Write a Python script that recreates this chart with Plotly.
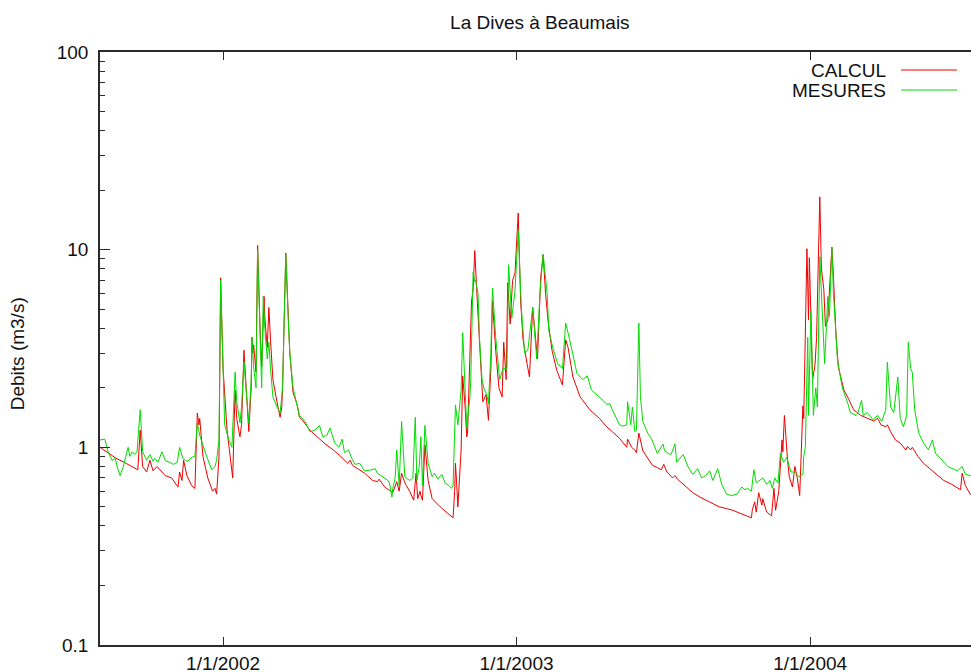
import pandas as pd
import plotly.graph_objects as go

# Start of the record (day 0 = 1 Aug 2001)
debut = "2001-08-01"

# CALCUL (simulated discharge, m3/s), sampled by day number since debut
jours_calcul = [0, 10, 20, 30, 40, 47, 50, 53, 58, 62, 66, 71, 81, 89, 97, 99, 102, 104, 108, 114, 118, 121, 123, 124, 128,
                134, 140, 143, 145, 148, 150, 153, 158, 162, 165, 168, 170, 174, 176, 179, 182, 185, 188, 189, 190, 191,
                194, 196, 199, 201, 204, 205, 208, 210, 212, 215, 220, 224, 226, 227, 231, 234, 236, 240, 245, 248, 252,
                261, 270, 280, 290, 298, 308, 311, 314, 323, 329, 339, 345, 347, 354, 364, 369, 372, 375, 378, 380, 385,
                390, 393, 395, 398, 399, 401, 404, 408, 413, 423, 431, 439, 441, 442, 444, 445, 449, 451, 454, 456, 457,
                460, 462, 464, 466, 469, 471, 475, 476, 480, 483, 486, 488, 492, 496, 500, 502, 505, 507, 510, 513, 516,
                520, 523, 526, 531, 534, 538, 542, 544, 548, 551, 554, 557, 562, 568, 575, 579, 582, 588, 597, 609, 621,
                630, 637, 646, 655, 656, 661, 665, 667, 670, 675, 681, 687, 693, 698, 701, 705, 712, 715, 718, 727, 737,
                746, 754, 762, 770, 779, 787, 798, 810, 811, 814, 816, 819, 823, 824, 829, 835, 838, 840, 844, 848, 849,
                851, 855, 857, 861, 864, 867, 870, 874, 875, 879, 881, 882, 886, 889, 891, 895, 897, 900, 902, 905, 907,
                910, 912, 915, 918, 925, 931, 937, 946, 954, 962, 967, 971, 977, 979, 983, 989, 995, 1002, 1004, 1008,
                1010, 1017, 1024, 1033, 1041, 1049, 1059, 1070, 1072, 1076, 1082, 1095]
debit_calcul = [1.0, 0.94, 0.88, 0.84, 0.8, 0.77, 1.22, 0.8, 0.75, 0.86, 0.76, 0.8, 0.72, 0.7, 0.63, 0.75, 0.68, 0.86, 0.72,
                0.64, 0.62, 1.49, 1.3, 1.4, 0.9, 0.7, 0.6, 0.62, 0.58, 0.9, 7.2, 2.5, 1.22, 0.85, 0.7, 1.95, 1.4, 1.13,
                1.3, 3.1, 1.8, 1.2, 2.0, 3.6, 3.0, 3.3, 2.4, 10.5, 4.0, 2.55, 5.8, 4.5, 3.2, 5.1, 3.5, 2.2, 1.7, 1.42,
                1.6, 2.0, 9.6, 4.5, 3.0, 1.9, 1.65, 1.42, 1.37, 1.22, 1.13, 1.04, 0.97, 0.91, 0.83, 0.86, 0.81, 0.77,
                0.74, 0.68, 0.67, 0.69, 0.63, 0.59, 0.67, 0.6, 0.74, 0.68, 0.65, 0.6, 0.54, 0.74, 0.55, 0.6, 0.57, 0.54,
                1.03, 0.68, 0.55, 0.5, 0.47, 0.44, 0.6, 0.83, 0.6, 0.5, 0.97, 2.3, 1.6, 1.13, 1.18, 2.6, 5.5, 6.3, 9.9,
                5.6, 4.0, 1.9, 1.7, 1.85, 1.37, 2.5, 5.5, 3.1, 2.0, 1.8, 3.4, 2.2, 6.8, 4.2, 7.0, 7.6, 15.3, 5.5, 3.5,
                2.65, 2.27, 5.1, 3.4, 2.8, 7.3, 9.4, 6.0, 4.4, 3.1, 2.45, 2.07, 3.5, 3.2, 2.27, 1.8, 1.55, 1.4, 1.27,
                1.2, 1.11, 1.0, 1.1, 1.0, 0.97, 0.94, 1.18, 0.96, 0.88, 0.81, 0.79, 0.77, 0.82, 0.75, 0.7, 0.72, 0.69,
                0.64, 0.59, 0.56, 0.54, 0.52, 0.5, 0.49, 0.48, 0.46, 0.44, 0.48, 0.53, 0.47, 0.59, 0.51, 0.55, 0.47,
                0.45, 0.62, 0.48, 0.6, 1.09, 0.95, 1.45, 0.85, 0.71, 0.63, 0.8, 0.7, 0.57, 1.62, 1.4, 10.1, 4.4, 9.1,
                2.2, 2.6, 3.6, 18.5, 8.0, 6.3, 4.1, 4.4, 6.5, 10.3, 7.2, 3.8, 2.55, 1.95, 1.75, 1.55, 1.45, 1.4, 1.36,
                1.4, 1.3, 1.27, 1.3, 1.2, 1.09, 1.05, 0.97, 1.01, 0.97, 1.0, 0.9, 0.83, 0.77, 0.72, 0.68, 0.65, 0.61,
                0.74, 0.64, 0.58, 0.56]

# MESURES (observed discharge, m3/s)
jours_mesures = [0, 4, 6, 10, 15, 19, 22, 25, 29, 32, 35, 37, 40, 43, 46, 50, 53, 58, 62, 66, 68, 72, 77, 81, 83, 87, 91,
                 96, 99, 103, 106, 109, 114, 118, 121, 124, 127, 133, 139, 143, 145, 148, 150, 153, 155, 160, 164, 168,
                 170, 174, 176, 179, 182, 185, 188, 189, 191, 194, 196, 199, 201, 203, 205, 208, 210, 212, 215, 220, 224,
                 227, 231, 234, 236, 240, 245, 248, 255, 261, 267, 273, 277, 282, 286, 292, 297, 301, 304, 309, 313, 317,
                 323, 329, 338, 342, 345, 352, 358, 360, 363, 364, 367, 369, 372, 375, 378, 379, 385, 389, 392, 394, 397,
                 399, 401, 404, 408, 413, 416, 420, 425, 429, 434, 437, 439, 442, 445, 449, 451, 454, 456, 460, 461, 464,
                 466, 467, 470, 472, 475, 478, 481, 483, 486, 488, 492, 497, 501, 506, 508, 512, 516, 520, 524, 528, 532,
                 538, 543, 547, 551, 556, 558, 563, 569, 575, 579, 584, 593, 600, 606, 611, 621, 626, 630, 634, 637, 646,
                 650, 655, 656, 660, 662, 665, 667, 670, 672, 675, 681, 686, 690, 693, 700, 702, 707, 710, 715, 717, 725,
                 731, 737, 743, 748, 753, 758, 762, 768, 773, 779, 785, 792, 798, 802, 805, 810, 813, 816, 820, 824, 829,
                 833, 836, 839, 843, 846, 850, 854, 859, 864, 869, 874, 875, 877, 880, 881, 884, 887, 890, 892, 895, 898,
                 901, 905, 907, 910, 912, 917, 923, 930, 933, 940, 942, 947, 949, 954, 961, 967, 972, 977, 979, 983, 987,
                 992, 995, 999, 1003, 1005, 1008, 1010, 1013, 1018, 1024, 1030, 1035, 1039, 1045, 1054, 1060, 1066, 1072,
                 1076, 1082, 1095]
debit_mesures = [1.09, 1.1, 1.1, 0.95, 0.86, 0.88, 0.78, 0.72, 0.8, 0.9, 1.0, 0.9, 0.95, 0.92, 0.95, 1.55, 0.95, 0.86, 0.92,
                 0.85, 0.88, 0.84, 0.95, 0.86, 0.85, 0.84, 0.82, 0.84, 1.0, 0.88, 0.86, 0.85, 0.89, 0.9, 1.33, 1.15, 1.05,
                 0.89, 0.77, 0.8, 0.86, 1.1, 7.0, 2.4, 1.3, 1.1, 1.0, 2.4, 1.7, 1.33, 1.6, 2.7, 1.8, 1.33, 2.2, 3.6, 2.55,
                 2.0, 10.0, 3.5, 2.0, 5.8, 4.0, 2.8, 3.4, 2.5, 1.8, 1.6, 1.5, 2.0, 9.5, 4.5, 3.0, 2.0, 1.6, 1.45, 1.35,
                 1.2, 1.22, 1.29, 1.13, 1.15, 1.25, 1.05, 1.0, 1.1, 0.94, 0.97, 0.88, 0.82, 0.83, 0.76, 0.77, 0.78, 0.74,
                 0.71, 0.68, 0.66, 0.56, 0.62, 0.7, 0.97, 0.64, 1.35, 0.8, 0.71, 0.68, 0.7, 1.42, 0.68, 0.8, 1.13, 0.64,
                 1.29, 0.83, 0.71, 0.74, 0.69, 0.73, 0.66, 0.64, 0.62, 0.64, 1.64, 1.3, 1.95, 3.8, 2.0, 1.25, 1.8, 2.2,
                 7.7, 6.9, 7.0, 6.0, 3.5, 2.2, 1.95, 1.85, 1.66, 3.0, 6.4, 3.6, 2.2, 2.5, 2.5, 8.4, 4.5, 6.2, 12.5, 5.0,
                 3.0, 3.1, 5.1, 2.8, 6.0, 9.5, 6.0, 3.9, 3.2, 2.65, 2.5, 4.25, 3.5, 2.37, 2.2, 2.3, 1.95, 1.8, 1.72,
                 1.65, 1.66, 1.55, 1.3, 1.28, 1.3, 1.7, 1.3, 1.6, 1.2, 1.22, 4.25, 1.8, 1.35, 1.18, 1.1, 1.0, 0.93, 1.04,
                 0.96, 0.93, 0.92, 1.04, 0.84, 0.92, 0.8, 0.73, 0.78, 0.7, 0.72, 0.76, 0.68, 0.78, 0.65, 0.58, 0.57,
                 0.58, 0.63, 0.61, 0.62, 0.6, 0.77, 0.66, 0.68, 0.7, 0.65, 0.68, 0.62, 0.7, 0.66, 0.93, 0.84, 0.89, 0.75,
                 0.75, 0.71, 0.73, 0.9, 1.0, 3.6, 1.45, 4.9, 1.45, 2.0, 1.6, 9.2, 4.9, 2.65, 5.8, 4.6, 10.3, 6.0, 2.77,
                 2.0, 1.66, 1.5, 1.45, 1.48, 1.73, 1.45, 1.5, 1.38, 1.45, 1.35, 1.55, 2.7, 1.6, 1.5, 2.27, 1.4, 1.27,
                 1.45, 3.4, 2.5, 2.4, 1.55, 1.18, 1.05, 0.97, 1.09, 0.93, 0.88, 0.8, 0.78, 0.76, 0.8, 0.73, 0.72, 0.7]

# Axis ticks
x_tick_dates = ["2002-01-01", "2003-01-01", "2004-01-01"]
x_tick_labels = ["1/1/2002", "1/1/2003", "1/1/2004"]
y_tick_vals = [0.1, 1, 10, 100]
y_tick_labels = ["0.1", "1", "10", "100"]
y_minor_vals = [m * d for d in (0.1, 1, 10) for m in range(2, 10)]

titre = "La Dives à Beaumais"
titre_y = "Debits (m3/s)"
noms = ["CALCUL", "MESURES"]
couleurs = ["#ee0000", "#00dd00"]

t0 = pd.Timestamp(debut)
dates_calcul = [t0 + pd.Timedelta(days=d) for d in jours_calcul]
dates_mesures = [t0 + pd.Timedelta(days=d) for d in jours_mesures]

FONT = "Liberation Sans, Arial, sans-serif"
AXC = "#2a2a2a"
W, H = 971, 672

fig = go.Figure()
fig.add_trace(go.Scatter(x=dates_calcul, y=debit_calcul, mode="lines", name=noms[0],
                         line=dict(color=couleurs[0], width=1), showlegend=False))
fig.add_trace(go.Scatter(x=dates_mesures, y=debit_mesures, mode="lines", name=noms[1],
                         line=dict(color=couleurs[1], width=1), showlegend=False))

# gnuplot-style key: text on the left, line sample on the right
for i, (nom, col) in enumerate(zip(noms, couleurs)):
    ypos = 0.9696 - i * 0.0337
    fig.add_annotation(text=nom, xref="paper", yref="paper", x=0.905, y=ypos,
                       xanchor="right", yanchor="middle", showarrow=False,
                       font=dict(family=FONT, size=19, color="#111"))
    fig.add_shape(type="line", xref="paper", yref="paper", x0=0.9197, x1=0.9839, y0=ypos, y1=ypos,
                  line=dict(color=col, width=1))

fig.add_annotation(text=titre_y, xref="paper", yref="paper", x=-0.0953, y=0.492,
                   xanchor="center", yanchor="middle", textangle=-90, showarrow=False,
                   font=dict(family=FONT, size=19, color="#111"))

fig.update_layout(
    width=W, height=H,
    margin=dict(l=100, r=0, t=52, b=27, autoexpand=False),
    paper_bgcolor="white", plot_bgcolor="white",
    font=dict(family=FONT, size=19, color="#111"),
    title=dict(text=titre, x=0.505, xref="paper", xanchor="center",
               y=1 - 22 / H, yref="container", yanchor="middle",
               font=dict(family=FONT, size=19, color="#111")),
    xaxis=dict(type="date", range=["2001-08-01", "2004-07-19"],
               tickvals=x_tick_dates, ticktext=x_tick_labels,
               ticks="inside", ticklen=8, tickwidth=1.2, tickcolor=AXC,
               showline=True, linecolor=AXC, linewidth=1.5, mirror="ticks",
               showgrid=False, zeroline=False, automargin=False,
               tickfont=dict(family=FONT, size=19, color="#111")),
    yaxis=dict(type="log", range=[-1, 2],
               tickvals=y_tick_vals, ticktext=y_tick_labels,
               ticks="inside", ticklen=10, tickwidth=1.2, tickcolor=AXC,
               minor=dict(tickvals=y_minor_vals, ticks="inside", ticklen=5, tickwidth=1.2, tickcolor=AXC,
                          showgrid=False),
               showline=True, linecolor=AXC, linewidth=1.5, mirror=False,
               showgrid=False, zeroline=False, automargin=False,
               ticklabelstandoff=6,
               tickfont=dict(family=FONT, size=19, color="#111")),
)

# Remove the browser's default page margin and scrollbars so the figure fills the window
page_css = "document.body.style.margin='0';document.body.style.overflow='hidden';"
fig.write_html("out.html", post_script=page_css, config={"displayModeBar": False})
